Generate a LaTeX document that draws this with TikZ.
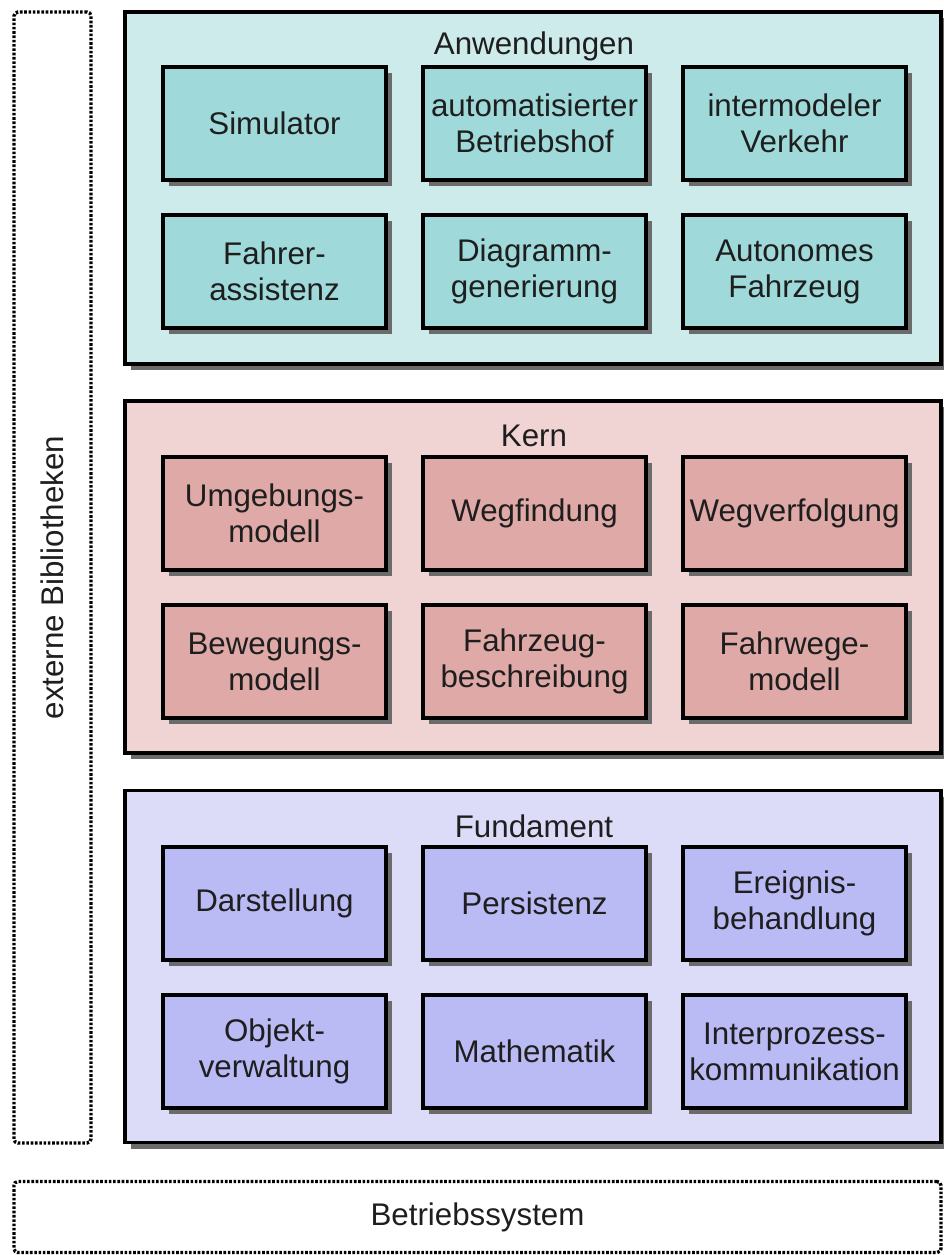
\documentclass[tikz,border=0pt]{standalone}
\usepackage{fontspec}
\setmainfont{Liberation Sans}
\usetikzlibrary{shadows}
\definecolor{appouter}{HTML}{CDEBEB}
\definecolor{appinner}{HTML}{9FD9D9}
\definecolor{coreouter}{HTML}{F0D3D3}
\definecolor{coreinner}{HTML}{DEA9A6}
\definecolor{baseouter}{HTML}{DCDCF8}
\definecolor{baseinner}{HTML}{BABAF5}
\definecolor{txt}{HTML}{1E1E1E}
\tikzset{
  shade box/.style={draw=black, line width=3.5pt,
    drop shadow={shadow xshift=6pt, shadow yshift=-6pt, fill=black!58, opacity=1}},
  layer/.style={shade box, minimum width=816pt, minimum height=352pt, inner sep=0pt},
  module/.style={shade box, minimum width=223pt, minimum height=113pt, inner sep=0pt,
    align=center, text=txt, font=\fontsize{31.3}{36}\selectfont},
  title/.style={text=txt, font=\fontsize{31.3}{36}\selectfont, inner sep=0pt},
  ext/.style={draw=black, line width=3.4pt, dash pattern=on 2.6pt off 1.7pt, rounded corners=4pt}
}
\begin{document}
\begin{tikzpicture}[x=1pt, y=-1pt]
  \useasboundingbox (0,0) rectangle (943,1255);

  % external libraries and operating system
  \node[ext, minimum width=77pt, minimum height=1131pt, inner sep=0pt] (ext) at (52.5,577.5) {};
  \node[title, rotate=90] (extlabel) at (ext.center) {externe Bibliotheken};
  \node[ext, minimum width=927pt, minimum height=71pt, inner sep=0pt] (os) at (477.5,1217) {};
  \node[title] (oslabel) at (os.center) {Betriebssystem};

  % layers
  \node[layer, fill=appouter] (app) at (533,188) {};
  \node[layer, fill=coreouter] (core) at (533,577) {};
  \node[layer, fill=baseouter] (base) at (533,966.5) {};
  \node[title] (apptitle) at (534,46) {Anwendungen};
  \node[title] (coretitle) at (534,436) {Kern};
  \node[title] (basetitle) at (534,826) {Fundament};

  % Anwendungen
  \node[module, fill=appinner] (a1) at (274.5,123.5) {Simulator};
  \node[module, fill=appinner] (a2) at (534.5,123.5) {automatisierter\\Betriebshof};
  \node[module, fill=appinner] (a3) at (794.5,123.5) {intermodeler\\Verkehr};
  \node[module, fill=appinner] (a4) at (274.5,271.5) {Fahrer-\\assistenz};
  \node[module, fill=appinner] (a5) at (534.5,271.5) {Diagramm-\\generierung};
  \node[module, fill=appinner] (a6) at (794.5,271.5) {Autonomes\\Fahrzeug};

  % Kern
  \node[module, fill=coreinner] (k1) at (274.5,513.5) {Umgebungs-\\modell};
  \node[module, fill=coreinner] (k2) at (534.5,513.5) {Wegfindung};
  \node[module, fill=coreinner] (k3) at (794.5,513.5) {Wegverfolgung};
  \node[module, fill=coreinner] (k4) at (274.5,661.5) {Bewegungs-\\modell};
  \node[module, fill=coreinner] (k5) at (534.5,661.5) {Fahrzeug-\\beschreibung};
  \node[module, fill=coreinner] (k6) at (794.5,661.5) {Fahrwege-\\modell};

  % Fundament
  \node[module, fill=baseinner] (f1) at (274.5,903.5) {Darstellung};
  \node[module, fill=baseinner] (f2) at (534.5,903.5) {Persistenz};
  \node[module, fill=baseinner] (f3) at (794.5,903.5) {Ereignis-\\behandlung};
  \node[module, fill=baseinner] (f4) at (274.5,1051.5) {Objekt-\\verwaltung};
  \node[module, fill=baseinner] (f5) at (534.5,1051.5) {Mathematik};
  \node[module, fill=baseinner] (f6) at (794.5,1051.5) {Interprozess-\\kommunikation};
\end{tikzpicture}
\end{document}
